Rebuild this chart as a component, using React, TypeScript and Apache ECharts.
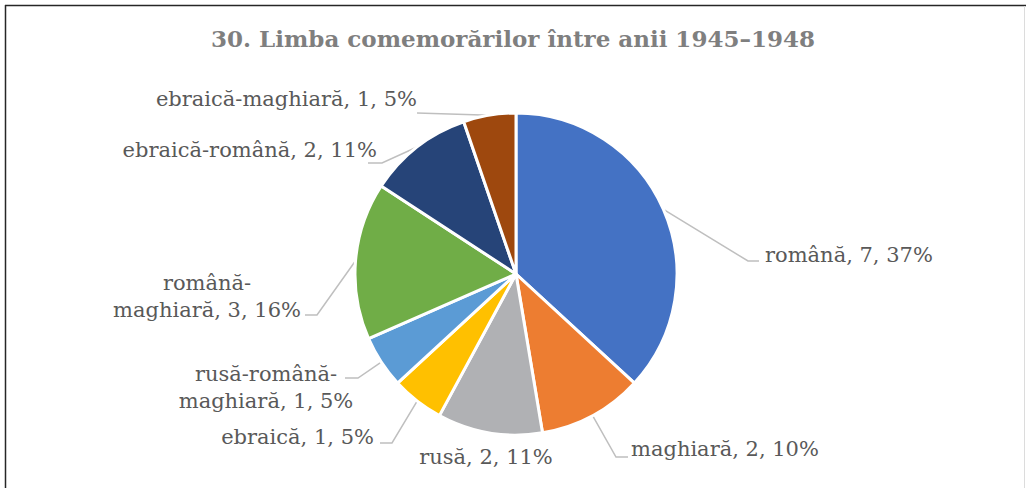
import React, { useEffect, useRef } from "react";
import * as echarts from "echarts";

const TITLE = "30. Limba comemorărilor între anii 1945–1948";
const categories = [
  "română",
  "maghiară",
  "rusă",
  "ebraică",
  "rusă-română-maghiară",
  "română-maghiară",
  "ebraică-română",
  "ebraică-maghiară",
];
const values = [7, 2, 2, 1, 1, 3, 2, 1];
const percents = [37, 10, 11, 5, 5, 16, 11, 5];
const colors = ["#4472C4", "#ED7D31", "#B0B1B4", "#FFC000", "#5B9BD5", "#70AD47", "#264478", "#9E480E"];

// label placement (layout only)
const labelPos: { x: number; y: number; align: string; line: number[][] | null }[] = [
  { x: 765, y: 255, align: "left", line: [[748, 261], [759, 261]] },
  { x: 631, y: 449, align: "left", line: [[616, 457], [628, 457]] },
  { x: 486, y: 457, align: "center", line: null },
  { x: 374, y: 437, align: "right", line: [[392, 443], [380, 443]] },
  { x: 266, y: 387, align: "center", line: [[358, 378], [345, 378]] },
  { x: 207, y: 296, align: "center", line: [[317, 315], [305, 315]] },
  { x: 377, y: 150, align: "right", line: [[382, 163], [368, 163]] },
  { x: 417, y: 99, align: "right", line: [[417, 113], [417, 113]] },
];
const wrapped = new Set([4, 5]);

export default function App() {
  const ref = useRef<HTMLDivElement>(null);
  useEffect(() => {
    if (!ref.current) return;
    const chart = echarts.init(ref.current, null, { renderer: "svg" });
    const data = categories.map((name, i) => ({
      name,
      value: values[i],
      itemStyle: { color: colors[i] },
      labelLine: { show: labelPos[i].line !== null },
    }));
    chart.setOption({
      animation: false,
      backgroundColor: "#ffffff",
      title: {
        text: TITLE,
        left: "center",
        top: 22,
        textStyle: {
          fontFamily: "DejaVu Serif",
          fontWeight: "bold",
          fontSize: 23,
          color: "#7F7F7F",
        },
      },
      graphic: [
        { type: "line", shape: { x1: 5, y1: 5.5, x2: 1026, y2: 5.5 }, style: { stroke: "#262626", lineWidth: 1.5 } },
        { type: "line", shape: { x1: 5.5, y1: 5, x2: 5.5, y2: 488 }, style: { stroke: "#262626", lineWidth: 1.5 } },
        { type: "line", shape: { x1: 1024.5, y1: 6, x2: 1024.5, y2: 488 }, style: { stroke: "#dcdcdc", lineWidth: 1 } },
      ],
      series: [
        {
          type: "pie",
          center: [516, 274],
          radius: 161,
          startAngle: 90,
          clockwise: true,
          avoidLabelOverlap: false,
          itemStyle: { borderColor: "#ffffff", borderWidth: 3 },
          label: {
            show: true,
            position: "outside",
            fontFamily: "DejaVu Serif",
            fontSize: 21,
            lineHeight: 27,
            color: "#595959",
            formatter: (p: any) => {
              const i = p.dataIndex;
              const nm = wrapped.has(i) ? p.name.replace("română-", "română-\n") : p.name;
              return `${nm}, ${p.value}, ${percents[i]}%`;
            },
          },
          labelLine: {
            show: true,
            lineStyle: { color: "#BFBFBF", width: 1.5 },
          },
          labelLayout: (params: any) => {
            const lp = labelPos[params.dataIndex];
            const res: any = { x: lp.x, y: lp.y, align: lp.align, verticalAlign: "middle" };
            if (lp.line && params.labelLinePoints && params.labelLinePoints[0]) {
              res.labelLinePoints = [params.labelLinePoints[0], lp.line[0], lp.line[1]];
            }
            return res;
          },
          data,
        },
      ],
    });
    return () => chart.dispose();
  }, []);
  return (
    <div
      ref={ref}
      style={{ position: "fixed", left: 0, top: 0, width: 1026, height: 488 }}
    />
  );
}
